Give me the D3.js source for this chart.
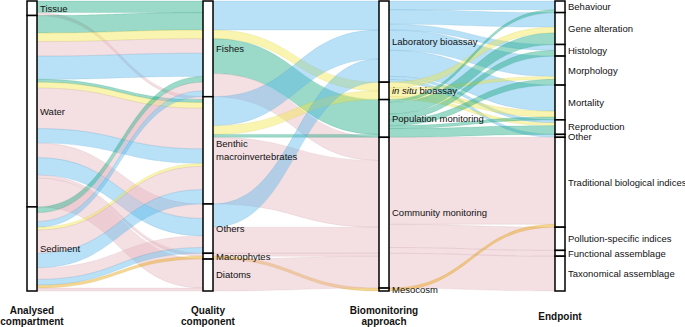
<!DOCTYPE html>
<html>
<head>
<meta charset="utf-8">
<script src="https://cdn.jsdelivr.net/npm/d3@7"></script>
<style>
  body { margin: 0; background: #fff; }
  svg { display: block; font-family: "Liberation Sans", Arial, sans-serif; }
</style>
</head>
<body>
<div id="chart"></div>
<script>
// axis categories, top to bottom
const compartments = ["Tissue", "Water", "Sediment"];
const components = ["Fishes", "Benthic macroinvertebrates", "Others", "Macrophytes", "Diatoms"];
const approaches = ["Laboratory bioassay", "in situ bioassay", "Population monitoring", "Community monitoring", "Mesocosm"];
const endpoints = ["Behaviour", "Gene alteration", "Histology", "Morphology", "Mortality", "Reproduction", "Other",
  "Traditional biological indices", "Pollution-specific indices", "Functional assemblage", "Taxonomical assemblage"];
const axisTitles = [["Analysed", "compartment"], ["Quality", "component"], ["Biomonitoring", "approach"], ["Endpoint"]];

// studies: [compartment, component, approach, n]
const compartmentFlows = [
  ["Tissue", "Fishes", "Population monitoring", 4],
  ["Tissue", "Benthic macroinvertebrates", "Community monitoring", 1],
  ["Water", "Fishes", "Population monitoring", 6],
  ["Water", "Fishes", "in situ bioassay", 3],
  ["Water", "Fishes", "Community monitoring", 5],
  ["Water", "Fishes", "Laboratory bioassay", 8],
  ["Water", "Benthic macroinvertebrates", "Population monitoring", 1],
  ["Water", "Benthic macroinvertebrates", "in situ bioassay", 2],
  ["Water", "Benthic macroinvertebrates", "Community monitoring", 14],
  ["Water", "Benthic macroinvertebrates", "Laboratory bioassay", 5],
  ["Water", "Others", "Community monitoring", 5],
  ["Water", "Others", "Laboratory bioassay", 6],
  ["Water", "Macrophytes", "Community monitoring", 1],
  ["Water", "Diatoms", "Community monitoring", 10],
  ["Sediment", "Fishes", "Population monitoring", 2],
  ["Sediment", "Fishes", "Community monitoring", 3],
  ["Sediment", "Fishes", "Laboratory bioassay", 2],
  ["Sediment", "Benthic macroinvertebrates", "in situ bioassay", 1],
  ["Sediment", "Benthic macroinvertebrates", "Community monitoring", 8],
  ["Sediment", "Benthic macroinvertebrates", "Laboratory bioassay", 5],
  ["Sediment", "Others", "Community monitoring", 4],
  ["Sediment", "Others", "Laboratory bioassay", 2],
  ["Sediment", "Macrophytes", "Mesocosm", 1],
  ["Sediment", "Diatoms", "Community monitoring", 1]
];

// [component, approach, n]
const componentFlows = [
  ["Fishes", "Laboratory bioassay", 10],
  ["Fishes", "in situ bioassay", 3],
  ["Fishes", "Population monitoring", 12],
  ["Fishes", "Community monitoring", 8],
  ["Benthic macroinvertebrates", "Laboratory bioassay", 10],
  ["Benthic macroinvertebrates", "in situ bioassay", 3],
  ["Benthic macroinvertebrates", "Population monitoring", 1],
  ["Benthic macroinvertebrates", "Community monitoring", 23],
  ["Others", "Laboratory bioassay", 8],
  ["Others", "Community monitoring", 9],
  ["Macrophytes", "Community monitoring", 1],
  ["Macrophytes", "Mesocosm", 1],
  ["Diatoms", "Community monitoring", 11]
];

// [approach, endpoint, n]
const endpointFlows = [
  ["Laboratory bioassay", "Behaviour", 3],
  ["Laboratory bioassay", "Gene alteration", 5],
  ["Laboratory bioassay", "Histology", 2],
  ["Laboratory bioassay", "Morphology", 7],
  ["Laboratory bioassay", "Mortality", 9],
  ["Laboratory bioassay", "Reproduction", 1],
  ["Laboratory bioassay", "Other", 1],
  ["in situ bioassay", "Gene alteration", 2],
  ["in situ bioassay", "Morphology", 1],
  ["in situ bioassay", "Mortality", 2],
  ["in situ bioassay", "Reproduction", 1],
  ["Population monitoring", "Behaviour", 1],
  ["Population monitoring", "Gene alteration", 4],
  ["Population monitoring", "Histology", 2],
  ["Population monitoring", "Morphology", 2],
  ["Population monitoring", "Mortality", 1],
  ["Population monitoring", "Reproduction", 3],
  ["Community monitoring", "Traditional biological indices", 30],
  ["Community monitoring", "Pollution-specific indices", 8],
  ["Community monitoring", "Functional assemblage", 2],
  ["Community monitoring", "Taxonomical assemblage", 12],
  ["Mesocosm", "Traditional biological indices", 1]
];

// fill per approach, and the stacking order of fills inside a pair of strata
const approachColors = ["#56B4E9", "#F0E442", "#11A57C", "#E4B3BC", "#E69F00"];
const stackOrder = ["Population monitoring", "in situ bioassay", "Community monitoring", "Laboratory bioassay", "Mesocosm"];

const width = 685, height = 327;
const boxW = 10;

const svg = d3.select('#chart')
  .append('svg')
  .attr('width', width)
  .attr('height', height);

const axes = [compartments, components, approaches, endpoints];
const links = [
  compartmentFlows.map(([a, b, fill, n]) => ({ a, b, fill, n })),
  componentFlows.map(([a, fill, n]) => ({ a, b: fill, fill, n })),
  endpointFlows.map(([fill, b, n]) => ({ a: fill, b, fill, n }))
];

const total = d3.sum(links[0], d => d.n);
const y = d3.scaleLinear().domain([0, total]).range([1, 291]);
const x = d3.scalePoint().domain(d3.range(axes.length)).range([27, 555]);
const color = d3.scaleOrdinal().domain(approaches).range(approachColors);

// stratum extents on each axis
const strata = axes.map((cats, i) => {
  const flows = i < links.length ? links[i] : links[i - 1];
  const side = i < links.length ? 'a' : 'b';
  let acc = 0;
  return cats.map(c => {
    const n = d3.sum(flows.filter(d => d[side] === c), d => d.n);
    const s = { name: c, v0: acc, v1: acc + n };
    acc += n;
    return s;
  });
});

// stack the flows on both sides of each gap
const fillIdx = f => stackOrder.indexOf(f);
links.forEach((flows, i) => {
  const left = axes[i], right = axes[i + 1];
  left.forEach((c, k) => {
    let acc = strata[i][k].v0;
    flows.filter(d => d.a === c)
      .sort((p, q) => right.indexOf(p.b) - right.indexOf(q.b) || fillIdx(p.fill) - fillIdx(q.fill))
      .forEach(d => { d.a0 = acc; acc += d.n; d.a1 = acc; });
  });
  right.forEach((c, k) => {
    let acc = strata[i + 1][k].v0;
    flows.filter(d => d.b === c)
      .sort((p, q) => left.indexOf(p.a) - left.indexOf(q.a) || fillIdx(p.fill) - fillIdx(q.fill))
      .forEach(d => { d.b0 = acc; acc += d.n; d.b1 = acc; });
  });
  flows.forEach(d => { d.x0 = x(i) + boxW; d.x1 = x(i + 1); });
});

const flowPath = d => {
  const xm = (d.x0 + d.x1) / 2;
  return `M${d.x0},${y(d.a0)}C${xm},${y(d.a0)} ${xm},${y(d.b0)} ${d.x1},${y(d.b0)}` +
    `L${d.x1},${y(d.b1)}C${xm},${y(d.b1)} ${xm},${y(d.a1)} ${d.x0},${y(d.a1)}Z`;
};

// flows
svg.append('g')
  .selectAll('path')
  .data(links.flat())
  .join('path')
  .attr('d', flowPath)
  .attr('fill', d => color(d.fill))
  .attr('fill-opacity', 0.42)
  .attr('stroke', d => d3.color(color(d.fill)).darker(0.5))
  .attr('stroke-opacity', 0.3)
  .attr('stroke-width', 0.5);

// strata boxes and labels
strata.forEach((list, i) => {
  const g = svg.append('g');
  g.selectAll('rect')
    .data(list)
    .join('rect')
    .attr('x', x(i))
    .attr('y', d => y(d.v0))
    .attr('width', boxW)
    .attr('height', d => y(d.v1) - y(d.v0))
    .attr('fill', '#fff')
    .attr('stroke', '#000')
    .attr('stroke-width', 1.5);

  const labels = g.selectAll('text')
    .data(list)
    .join('text')
    .attr('x', x(i) + boxW + 3)
    .attr('y', d => y((d.v0 + d.v1) / 2) + (d.name === 'Other' ? 1 : 0))
    .attr('dy', '0.35em')
    .style('font-size', '9.5px')
    .attr('fill', '#111');

  labels.each(function (d) {
    const t = d3.select(this);
    if (d.name === 'Benthic macroinvertebrates') {
      t.attr('dy', null);
      t.append('tspan').attr('x', x(i) + boxW + 3).attr('dy', '-0.35em').text('Benthic');
      t.append('tspan').attr('x', x(i) + boxW + 3).attr('dy', '1.35em').text('macroinvertebrates');
    } else if (d.name === 'in situ bioassay') {
      t.append('tspan').style('font-style', 'italic').text('in situ');
      t.append('tspan').text(' bioassay');
    } else {
      t.text(d.name);
    }
  });
});

// axis titles
axisTitles.forEach((lines, i) => {
  const t = svg.append('text')
    .attr('text-anchor', 'middle')
    .style('font-size', '10px')
    .style('font-weight', 'bold')
    .attr('fill', '#111');
  const top = lines.length > 1 ? 314 : 319.5;
  lines.forEach((s, k) => {
    t.append('tspan')
      .attr('x', x(i) + boxW / 2)
      .attr('y', top + k * 11)
      .text(s);
  });
});
</script>
</body>
</html>
